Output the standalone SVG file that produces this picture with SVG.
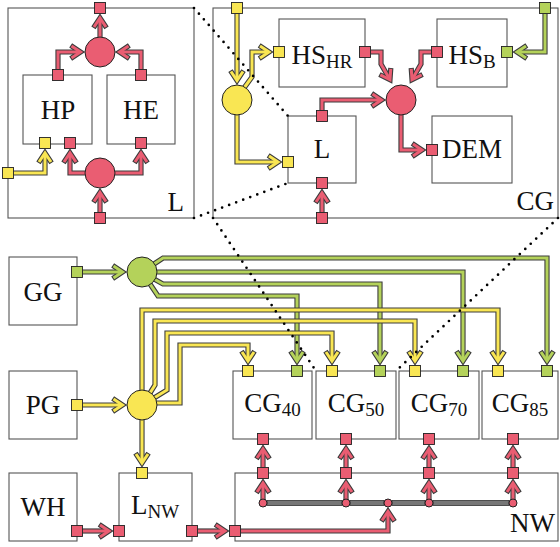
<svg xmlns="http://www.w3.org/2000/svg" width="560" height="547" viewBox="0 0 560 547">
<style>
.box{fill:none;stroke:#555;stroke-width:1.1}
.pt{stroke:#222;stroke-width:0.9}
.jn{stroke:#222;stroke-width:1}
.r{fill:#EA5D72}.y{fill:#F9E653}.g{fill:#B4D25A}
.lbl{font-size:27px;fill:#111;text-anchor:middle}
.end{text-anchor:end}
.sub{font-size:19px}
.po{fill:none;stroke:#3c3c3c;stroke-width:5.2;marker-end:url(#mo)}
.pr{fill:none;stroke:#EA5D72;stroke-width:3;marker-end:url(#mr)}
.py{fill:none;stroke:#F9E653;stroke-width:3;marker-end:url(#my)}
.pg{fill:none;stroke:#B4D25A;stroke-width:3;marker-end:url(#mg)}
.bar{fill:#777;stroke:#333;stroke-width:0.8}
.dots{fill:none;stroke:#000;stroke-width:2.7;stroke-linecap:round;stroke-dasharray:0 7.5}
</style>
<defs>
<marker id="mo" markerUnits="userSpaceOnUse" orient="auto" overflow="visible" markerWidth="1" markerHeight="1" refX="0" refY="0"><path d="M-7.83,-6.55 L2,0 L-7.83,6.55" fill="none" stroke="#3c3c3c" stroke-width="5.2"/></marker>
<marker id="mr" markerUnits="userSpaceOnUse" orient="auto" overflow="visible" markerWidth="1" markerHeight="1" refX="0" refY="0"><path d="M-7,-6 L2,0 L-7,6" fill="none" stroke="#EA5D72" stroke-width="3"/></marker>
<marker id="my" markerUnits="userSpaceOnUse" orient="auto" overflow="visible" markerWidth="1" markerHeight="1" refX="0" refY="0"><path d="M-7,-6 L2,0 L-7,6" fill="none" stroke="#F9E653" stroke-width="3"/></marker>
<marker id="mg" markerUnits="userSpaceOnUse" orient="auto" overflow="visible" markerWidth="1" markerHeight="1" refX="0" refY="0"><path d="M-7,-6 L2,0 L-7,6" fill="none" stroke="#B4D25A" stroke-width="3"/></marker>
</defs>
<rect width="560" height="547" fill="#fff"/>

<g id="boxes" font-family="Liberation Serif, DejaVu Serif, Times New Roman, serif">
<g id="L_detail"><rect class="box" x="8" y="8" width="186" height="210"/><text class="lbl end" x="184" y="211">L</text></g>
<g id="HP"><rect class="box" x="23" y="75" width="69" height="69"/><text class="lbl" x="58" y="119">HP</text></g>
<g id="HE"><rect class="box" x="107" y="75" width="68" height="69"/><text class="lbl" x="141" y="119">HE</text></g>
<g id="CG_detail"><rect class="box" x="213" y="8" width="345" height="210"/><text class="lbl end" x="554" y="210">CG</text></g>
<g id="HS_HR"><rect class="box" x="279" y="19" width="86" height="68"/><text class="lbl" x="322" y="64">HS<tspan class="sub" dy="4">HR</tspan></text></g>
<g id="HS_B"><rect class="box" x="437" y="19" width="70" height="68"/><text class="lbl" x="472" y="64">HS<tspan class="sub" dy="4">B</tspan></text></g>
<g id="L_inner"><rect class="box" x="288" y="116" width="68" height="67"/><text class="lbl" x="322" y="158">L</text></g>
<g id="DEM"><rect class="box" x="432" y="116" width="80" height="67"/><text class="lbl" x="472" y="158">DEM</text></g>
<g id="GG"><rect class="box" x="9" y="257" width="68" height="68"/><text class="lbl" x="43" y="301">GG</text></g>
<g id="PG"><rect class="box" x="9" y="371" width="68" height="68"/><text class="lbl" x="43" y="414">PG</text></g>
<g id="WH"><rect class="box" x="9" y="473" width="68" height="68"/><text class="lbl" x="43" y="516">WH</text></g>
<g id="L_NW"><rect class="box" x="119" y="473" width="73" height="68"/><text class="lbl" x="155" y="514">L<tspan class="sub" dy="4">NW</tspan></text></g>
<g id="NW"><rect class="box" x="235" y="473" width="323" height="68"/><text class="lbl end" x="555" y="532">NW</text></g>
<g id="CG40"><rect class="box" x="233" y="371" width="79" height="68"/><text class="lbl" x="272.5" y="412">CG<tspan class="sub" dy="4">40</tspan></text></g>
<g id="CG50"><rect class="box" x="316" y="371" width="80" height="68"/><text class="lbl" x="356" y="412">CG<tspan class="sub" dy="4">50</tspan></text></g>
<g id="CG70"><rect class="box" x="399" y="371" width="80" height="68"/><text class="lbl" x="439" y="412">CG<tspan class="sub" dy="4">70</tspan></text></g>
<g id="CG85"><rect class="box" x="482" y="371" width="76" height="68"/><text class="lbl" x="520" y="412">CG<tspan class="sub" dy="4">85</tspan></text></g>
</g>

<g id="connectors">
<path class="po" d="M100,37 L100,20"/><path class="pr" d="M100,37 L100,20"/>
<path class="po" d="M58,69.5 L58,52 L78.5,52"/><path class="pr" d="M58,69.5 L58,52 L78.5,52"/>
<path class="po" d="M141,69.5 L141,52 L121.5,52"/><path class="pr" d="M141,69.5 L141,52 L121.5,52"/>
<path class="po" d="M100,212.5 L100,194.5"/><path class="pr" d="M100,212.5 L100,194.5"/>
<path class="po" d="M86,173 L70,173 L70,155"/><path class="pr" d="M86,173 L70,173 L70,155"/>
<path class="po" d="M114,173 L141,173 L141,155"/><path class="pr" d="M114,173 L141,173 L141,155"/>
<path class="po" d="M13.5,173 L45,173 L45,155"/><path class="py" d="M13.5,173 L45,173 L45,155"/>

<path class="po" d="M237,13.5 L237,78.5"/><path class="py" d="M237,13.5 L237,78.5"/>
<path class="po" d="M244,88 L252,77 L252,52 L267,52"/><path class="py" d="M244,88 L252,77 L252,52 L267,52"/>
<path class="po" d="M237,114 L237,162 L276,162"/><path class="py" d="M237,114 L237,162 L276,162"/>
<path class="po" d="M322,110.5 L322,100 L379.5,100"/><path class="pr" d="M322,110.5 L322,100 L379.5,100"/>
<path class="po" d="M370.5,52 L381,52 L381,64 L389,78"/><path class="pr" d="M370.5,52 L381,52 L381,64 L389,78"/>
<path class="po" d="M431.5,52 L421,52 L421,64 L413,78"/><path class="pr" d="M431.5,52 L421,52 L421,64 L413,78"/>
<path class="po" d="M545,13.5 L545,52 L519,52"/><path class="pg" d="M545,13.5 L545,52 L519,52"/>
<path class="po" d="M401,114 L401,150 L420,150"/><path class="pr" d="M401,114 L401,150 L420,150"/>
<path class="po" d="M322,212.5 L322,195"/><path class="pr" d="M322,212.5 L322,195"/>

<path class="po" d="M82.5,272 L120.5,272"/><path class="pg" d="M82.5,272 L120.5,272"/>
<path class="po" d="M154,264 L163,258 L547,258 L547,359"/><path class="pg" d="M154,264 L163,258 L547,258 L547,359"/>
<path class="po" d="M156,272 L463,272 L463,359"/><path class="pg" d="M156,272 L463,272 L463,359"/>
<path class="po" d="M154,279 L163,284 L380,284 L380,359"/><path class="pg" d="M154,279 L163,284 L380,284 L380,359"/>
<path class="po" d="M150,284 L158,296 L297,296 L297,359"/><path class="pg" d="M150,284 L158,296 L297,296 L297,359"/>

<path class="po" d="M82.5,405 L120.5,405"/><path class="py" d="M82.5,405 L120.5,405"/>
<path class="po" d="M142,391 L142,310 L498,310 L498,359"/><path class="py" d="M142,391 L142,310 L498,310 L498,359"/>
<path class="po" d="M150,393 L155,385 L155,321 L415,321 L415,359"/><path class="py" d="M150,393 L155,385 L155,321 L415,321 L415,359"/>
<path class="po" d="M154,398 L167,390 L167,333 L332,333 L332,359"/><path class="py" d="M154,398 L167,390 L167,333 L332,333 L332,359"/>
<path class="po" d="M156,403 L180,403 L180,345 L248,345 L248,359"/><path class="py" d="M156,403 L180,403 L180,345 L248,345 L248,359"/>
<path class="po" d="M142,419 L142,461"/><path class="py" d="M142,419 L142,461"/>

<path class="po" d="M82.5,531 L107,531"/><path class="pr" d="M82.5,531 L107,531"/>
<path class="po" d="M197.5,531 L223,531"/><path class="pr" d="M197.5,531 L223,531"/>
<path class="po" d="M240.5,531 L388,531 L388,513.5"/><path class="pr" d="M240.5,531 L388,531 L388,513.5"/>
<path class="po" d="M263,500 L263,485"/><path class="pr" d="M263,500 L263,485"/>
<path class="po" d="M346,500 L346,485"/><path class="pr" d="M346,500 L346,485"/>
<path class="po" d="M429,500 L429,485"/><path class="pr" d="M429,500 L429,485"/>
<path class="po" d="M513,500 L513,485"/><path class="pr" d="M513,500 L513,485"/>
<path class="po" d="M263,467.5 L263,451"/><path class="pr" d="M263,467.5 L263,451"/>
<path class="po" d="M346,467.5 L346,451"/><path class="pr" d="M346,467.5 L346,451"/>
<path class="po" d="M429,467.5 L429,451"/><path class="pr" d="M429,467.5 L429,451"/>
<path class="po" d="M513,467.5 L513,451"/><path class="pr" d="M513,467.5 L513,451"/>
</g>

<g id="bars">
<rect class="bar" x="267" y="500.5" width="75" height="5"/>
<rect class="bar" x="350" y="500.5" width="34" height="5"/>
<rect class="bar" x="392" y="500.5" width="33" height="5"/>
<rect class="bar" x="433" y="500.5" width="76" height="5"/>
</g>

<g id="junctions">
<circle id="j_top" class="jn r" cx="100" cy="52" r="15"/>
<circle id="j_bot" class="jn r" cx="100" cy="173" r="15"/>
<circle id="j_cgy" class="jn y" cx="237" cy="100" r="15"/>
<circle id="j_cgr" class="jn r" cx="401" cy="100" r="15"/>
<circle id="j_gg" class="jn g" cx="142" cy="272" r="15"/>
<circle id="j_pg" class="jn y" cx="142" cy="405" r="15"/>
<circle class="jn r" cx="263" cy="503" r="4"/>
<circle class="jn r" cx="346" cy="503" r="4"/>
<circle class="jn r" cx="388" cy="503" r="4"/>
<circle class="jn r" cx="429" cy="503" r="4"/>
<circle class="jn r" cx="513" cy="503" r="4"/>
</g>

<g id="ports">
<rect class="pt r" x="94.5" y="2.5" width="11" height="11"/>
<rect class="pt r" x="52.5" y="69.5" width="11" height="11"/>
<rect class="pt r" x="135.5" y="69.5" width="11" height="11"/>
<rect class="pt y" x="39.5" y="137.5" width="11" height="11"/>
<rect class="pt r" x="64.5" y="137.5" width="11" height="11"/>
<rect class="pt r" x="135.5" y="137.5" width="11" height="11"/>
<rect class="pt y" x="2.5" y="167.5" width="11" height="11"/>
<rect class="pt r" x="94.5" y="212.5" width="11" height="11"/>

<rect class="pt y" x="231.5" y="2.5" width="11" height="11"/>
<rect class="pt g" x="539.5" y="2.5" width="11" height="11"/>
<rect class="pt y" x="273.5" y="46.5" width="11" height="11"/>
<rect class="pt r" x="359.5" y="46.5" width="11" height="11"/>
<rect class="pt r" x="431.5" y="46.5" width="11" height="11"/>
<rect class="pt g" x="501.5" y="46.5" width="11" height="11"/>
<rect class="pt r" x="316.5" y="110.5" width="11" height="11"/>
<rect class="pt y" x="282.5" y="156.5" width="11" height="11"/>
<rect class="pt r" x="426.5" y="144.5" width="11" height="11"/>
<rect class="pt r" x="316.5" y="177.5" width="11" height="11"/>
<rect class="pt r" x="316.5" y="212.5" width="11" height="11"/>

<rect class="pt g" x="71.5" y="266.5" width="11" height="11"/>
<rect class="pt y" x="71.5" y="399.5" width="11" height="11"/>
<rect class="pt r" x="71.5" y="525.5" width="11" height="11"/>
<rect class="pt r" x="113.5" y="525.5" width="11" height="11"/>
<rect class="pt r" x="186.5" y="525.5" width="11" height="11"/>
<rect class="pt y" x="136.5" y="467.5" width="11" height="11"/>
<rect class="pt r" x="229.5" y="525.5" width="11" height="11"/>

<rect class="pt y" x="242.5" y="365.5" width="11" height="11"/>
<rect class="pt g" x="291.5" y="365.5" width="11" height="11"/>
<rect class="pt y" x="326.5" y="365.5" width="11" height="11"/>
<rect class="pt g" x="374.5" y="365.5" width="11" height="11"/>
<rect class="pt y" x="409.5" y="365.5" width="11" height="11"/>
<rect class="pt g" x="457.5" y="365.5" width="11" height="11"/>
<rect class="pt y" x="492.5" y="365.5" width="11" height="11"/>
<rect class="pt g" x="541.5" y="365.5" width="11" height="11"/>

<rect class="pt r" x="257.5" y="433.5" width="11" height="11"/>
<rect class="pt r" x="340.5" y="433.5" width="11" height="11"/>
<rect class="pt r" x="423.5" y="433.5" width="11" height="11"/>
<rect class="pt r" x="507.5" y="433.5" width="11" height="11"/>
<rect class="pt r" x="257.5" y="467.5" width="11" height="11"/>
<rect class="pt r" x="340.5" y="467.5" width="11" height="11"/>
<rect class="pt r" x="423.5" y="467.5" width="11" height="11"/>
<rect class="pt r" x="507.5" y="467.5" width="11" height="11"/>
</g>

<g id="zoom-lines">
<path class="dots" d="M194,8 L288,116"/>
<path class="dots" d="M194,218 L288,183"/>
<path class="dots" d="M213,218 L316,371"/>
<path class="dots" d="M558,218 L396,371"/>
</g>
</svg>
